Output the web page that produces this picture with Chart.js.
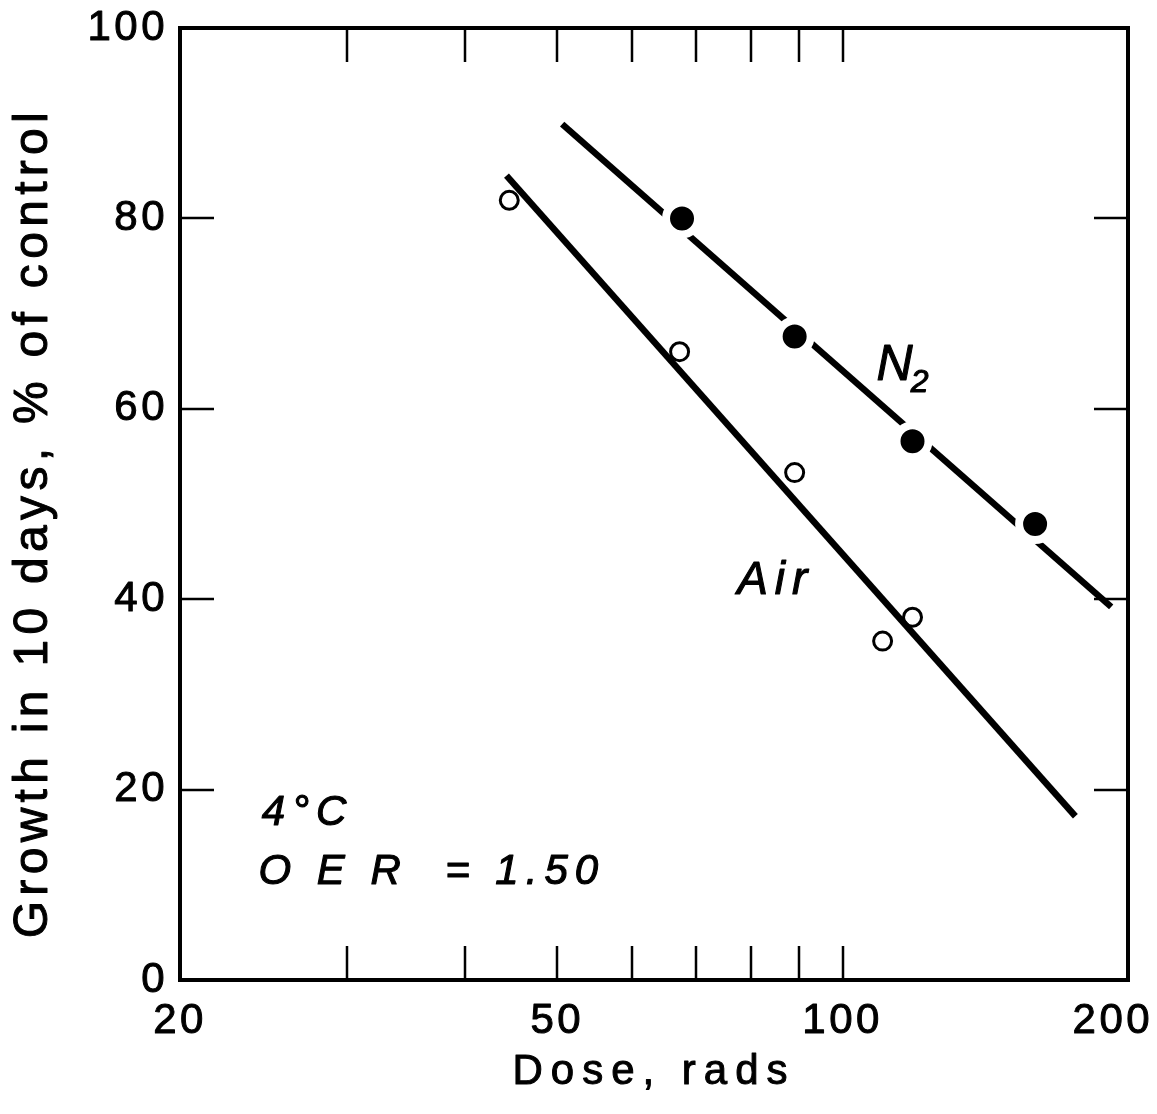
<!DOCTYPE html>
<html>
<head>
<meta charset="utf-8">
<script src="https://cdn.jsdelivr.net/npm/chart.js@4/dist/chart.umd.min.js"></script>
<style>
html,body{margin:0;padding:0;background:#fff;}
#wrap{width:1157px;height:1114px;}
</style>
</head>
<body>
<div id="wrap"><canvas id="c" width="1157" height="1114"></canvas></div>
<script>
// ---- data ----
const xTickLabels = [20, 50, 100, 200];
const yTickLabels = [0, 20, 40, 60, 80, 100];
const xMinorTicks = [30, 40, 50, 60, 70, 80, 90, 100];
const yInnerTicks = [20, 40, 60, 80];

const n2Dose   = [67.7, 89.0, 118.5, 159.6];
const n2Growth = [80.0, 67.6, 56.6, 47.9];

const airDose   = [44.5, 67.3, 89.0, 110.2, 118.5];
const airGrowth = [81.9, 66.0, 53.3, 35.6, 38.1];

const n2FitDose    = [50.6, 192];
const n2FitGrowth  = [89.9, 39.2];
const airFitDose   = [44.2, 176];
const airFitGrowth = [84.5, 17.2];

// annotation texts, anchored in data coordinates
const notes = [
  {text: 'Air', x: 77.4, y: 40.5, size: 46},
  {text: '4°C', x: 24.4, y: 16.3, size: 42},
  {text: 'O E R  = 1.50', x: 24.2, y: 10.1, size: 42}
];
const n2Note = {text: 'N', sub: '2', x: 108.6, y: 63.0, size: 50, subSize: 32};

const pts = (xs, ys) => xs.map((x, i) => ({x: x, y: ys[i]}));
const FONT = "'Liberation Sans', Arial, sans-serif";
const P = CanvasRenderingContext2D.prototype;

function heavy(c, w) {
  c.fillText = function (t, x, y, m) {
    P.fillText.call(this, t, x, y, m);
    const lw = this.lineWidth, ss = this.strokeStyle, lj = this.lineJoin;
    this.lineWidth = w; this.strokeStyle = this.fillStyle; this.lineJoin = 'round';
    P.strokeText.call(this, t, x, y, m);
    this.lineWidth = lw; this.strokeStyle = ss; this.lineJoin = lj;
  };
}
function light(c) { delete c.fillText; }

const framePlugin = {
  id: 'frame',
  beforeDraw(chart) {
    Object.values(chart.scales).forEach(s => {
      if (s._wrapped) return;
      const ol = s.drawLabels, ot = s.drawTitle;
      s.drawLabels = function (ca) {
        const c = this.ctx;
        c.save();
        c.letterSpacing = '3.5px';
        heavy(c, 1.0);
        ol.call(this, ca);
        light(c);
        c.restore();
      };
      s.drawTitle = function () {
        const c = this.ctx;
        c.save();
        c.letterSpacing = this.axis === 'x' ? '8px' : '5.3px';
        heavy(c, 1.0);
        ot.call(this);
        light(c);
        c.restore();
      };
      s._wrapped = true;
    });
  },
  afterDraw(chart) {
    const {ctx, chartArea: a, scales: {x, y}} = chart;
    ctx.save();
    ctx.strokeStyle = '#000';
    ctx.lineWidth = 2.5;
    const tl = 34;
    ctx.beginPath();
    xMinorTicks.forEach(v => {
      const px = Math.round(x.getPixelForValue(v));
      ctx.moveTo(px, a.top); ctx.lineTo(px, a.top + tl);
      ctx.moveTo(px, a.bottom); ctx.lineTo(px, a.bottom - tl);
    });
    yInnerTicks.forEach(v => {
      const py = Math.round(y.getPixelForValue(v));
      ctx.moveTo(a.left, py); ctx.lineTo(a.left + tl, py);
      ctx.moveTo(a.right, py); ctx.lineTo(a.right - tl, py);
    });
    ctx.stroke();
    ctx.lineWidth = 4;
    ctx.strokeRect(a.left, a.top, a.right - a.left, a.bottom - a.top);

    ctx.fillStyle = '#000';
    ctx.textBaseline = 'alphabetic';
    ctx.textAlign = 'left';
    heavy(ctx, 1.1);
    ctx.letterSpacing = '7px';
    notes.forEach(n => {
      ctx.font = 'italic ' + n.size + 'px ' + FONT;
      ctx.fillText(n.text, x.getPixelForValue(n.x), y.getPixelForValue(n.y));
    });
    ctx.letterSpacing = '0px';
    ctx.font = 'italic ' + n2Note.size + 'px ' + FONT;
    const nx = x.getPixelForValue(n2Note.x), ny = y.getPixelForValue(n2Note.y);
    ctx.fillText(n2Note.text, nx, ny);
    const w = ctx.measureText(n2Note.text).width;
    ctx.font = 'italic ' + n2Note.subSize + 'px ' + FONT;
    ctx.fillText(n2Note.sub, nx + w - 2, ny + 12);
    light(ctx);
    ctx.restore();
  }
};

new Chart(document.getElementById('c'), {
  type: 'scatter',
  data: {
    datasets: [
      {label: 'N2', data: pts(n2Dose, n2Growth), showLine: false,
       pointRadius: 16, pointBorderWidth: 8, pointBackgroundColor: '#000',
       pointBorderColor: '#fff', order: 0},
      {label: 'Air', data: pts(airDose, airGrowth), showLine: false,
       pointRadius: 9, pointBorderWidth: 3, pointBackgroundColor: 'rgba(0,0,0,0)',
       pointBorderColor: '#000', order: 0},
      {label: 'N2 fit', data: pts(n2FitDose, n2FitGrowth), showLine: true,
       borderColor: '#000', borderWidth: 6.5, pointRadius: 0, order: 2},
      {label: 'Air fit', data: pts(airFitDose, airFitGrowth), showLine: true,
       borderColor: '#000', borderWidth: 6.5, pointRadius: 0, order: 2}
    ]
  },
  options: {
    responsive: false,
    animation: false,
    devicePixelRatio: 1,
    layout: {padding: {top: 28, right: 29, left: 0, bottom: 0}},
    plugins: {legend: {display: false}, tooltip: {enabled: false}},
    scales: {
      x: {
        type: 'logarithmic', min: 20, max: 200, position: 'bottom',
        afterBuildTicks: s => { s.ticks = xTickLabels.map(v => ({value: v})); },
        afterFit: s => { s.height = 134; s.paddingLeft = 0; s.paddingRight = 0; },
        grid: {display: false, drawTicks: false},
        border: {display: false},
        ticks: {autoSkip: false, maxRotation: 0, minRotation: 0, padding: 16, color: '#000',
                font: {family: FONT, size: 42},
                callback: (v, i, arr) => i === arr.length - 1 ? String(v) + '  ' : String(v)},
        title: {display: true, text: 'Dose, rads', color: '#000',
                font: {family: FONT, size: 42}, padding: {top: 0, bottom: 16}}
      },
      y: {
        type: 'linear', min: 0, max: 100, position: 'left',
        afterBuildTicks: s => { s.ticks = yTickLabels.map(v => ({value: v})); },
        afterFit: s => { s.width = 180; s.paddingTop = 0; s.paddingBottom = 0; },
        grid: {display: false, drawTicks: false},
        border: {display: false},
        ticks: {autoSkip: false, padding: 12, color: '#000',
                font: {family: FONT, size: 42}, callback: v => String(v)},
        title: {display: true, text: 'Growth in 10 days, % of control  ', color: '#000',
                font: {family: FONT, size: 48}, padding: {top: 5, bottom: 0}}
      }
    }
  },
  plugins: [framePlugin]
});
</script>
</body>
</html>
